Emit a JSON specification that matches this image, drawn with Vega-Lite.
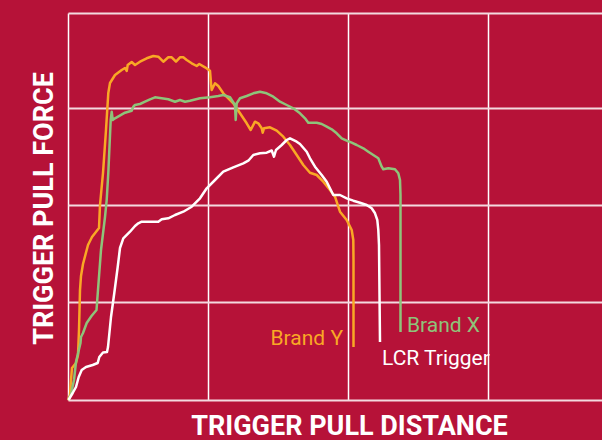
{
  "$schema": "https://vega.github.io/schema/vega-lite/v6.json",
  "width": 534,
  "height": 387,
  "autosize": "none",
  "padding": {"left": 68, "top": 13, "right": 0, "bottom": 40},
  "background": "#B61238",
  "config": {"view": {"stroke": null}},
  "datasets": {
    "curves": [
      {"s":"Brand Y","i":0,"d":0,"f":0},{"s":"Brand Y","i":1,"d":2,"f":5},{"s":"Brand Y","i":2,"d":3,"f":20},{"s":"Brand Y","i":3,"d":4,"f":32},{"s":"Brand Y","i":4,"d":8,"f":37},{"s":"Brand Y","i":5,"d":10,"f":45},{"s":"Brand Y","i":6,"d":11,"f":70},{"s":"Brand Y","i":7,"d":12,"f":110},{"s":"Brand Y","i":8,"d":13,"f":124},{"s":"Brand Y","i":9,"d":15,"f":136},{"s":"Brand Y","i":10,"d":20,"f":155},{"s":"Brand Y","i":11,"d":24,"f":163},{"s":"Brand Y","i":12,"d":31,"f":172},{"s":"Brand Y","i":13,"d":32,"f":195},{"s":"Brand Y","i":14,"d":35,"f":227},{"s":"Brand Y","i":15,"d":38,"f":270},{"s":"Brand Y","i":16,"d":40.3,"f":307},{"s":"Brand Y","i":17,"d":42,"f":317},{"s":"Brand Y","i":18,"d":47,"f":325},{"s":"Brand Y","i":19,"d":53.7,"f":330},{"s":"Brand Y","i":20,"d":57,"f":332},{"s":"Brand Y","i":21,"d":58.7,"f":329},{"s":"Brand Y","i":22,"d":59.7,"f":335},{"s":"Brand Y","i":23,"d":63.7,"f":338},{"s":"Brand Y","i":24,"d":67,"f":335},{"s":"Brand Y","i":25,"d":72,"f":338.3},{"s":"Brand Y","i":26,"d":78.7,"f":341.7},{"s":"Brand Y","i":27,"d":85.3,"f":344},{"s":"Brand Y","i":28,"d":90.3,"f":343.3},{"s":"Brand Y","i":29,"d":95.3,"f":338.3},{"s":"Brand Y","i":30,"d":100.3,"f":342.7},{"s":"Brand Y","i":31,"d":103.7,"f":342.7},{"s":"Brand Y","i":32,"d":108,"f":338.3},{"s":"Brand Y","i":33,"d":112,"f":342.7},{"s":"Brand Y","i":34,"d":115.3,"f":342.7},{"s":"Brand Y","i":35,"d":118.7,"f":340},{"s":"Brand Y","i":36,"d":123.7,"f":336.7},{"s":"Brand Y","i":37,"d":128.7,"f":334},{"s":"Brand Y","i":38,"d":131.3,"f":336},{"s":"Brand Y","i":39,"d":137,"f":332.7},{"s":"Brand Y","i":40,"d":142,"f":329.3},{"s":"Brand Y","i":41,"d":143,"f":316.7},{"s":"Brand Y","i":42,"d":143.7,"f":310},{"s":"Brand Y","i":43,"d":147,"f":316.7},{"s":"Brand Y","i":44,"d":150.3,"f":314},{"s":"Brand Y","i":45,"d":155.3,"f":306.7},{"s":"Brand Y","i":46,"d":165.3,"f":296.7},{"s":"Brand Y","i":47,"d":172,"f":286.7},{"s":"Brand Y","i":48,"d":178.7,"f":276.7},{"s":"Brand Y","i":49,"d":182.7,"f":270},{"s":"Brand Y","i":50,"d":187,"f":278.3},{"s":"Brand Y","i":51,"d":190.3,"f":276.7},{"s":"Brand Y","i":52,"d":193.7,"f":271.7},{"s":"Brand Y","i":53,"d":194.7,"f":267.3},{"s":"Brand Y","i":54,"d":196,"f":271.7},{"s":"Brand Y","i":55,"d":202,"f":272.7},{"s":"Brand Y","i":56,"d":208.7,"f":269.3},{"s":"Brand Y","i":57,"d":215.3,"f":263.3},{"s":"Brand Y","i":58,"d":222,"f":255},{"s":"Brand Y","i":59,"d":228.7,"f":245},{"s":"Brand Y","i":60,"d":235.3,"f":235},{"s":"Brand Y","i":61,"d":242,"f":227.3},{"s":"Brand Y","i":62,"d":248.7,"f":225},{"s":"Brand Y","i":63,"d":255.3,"f":218.3},{"s":"Brand Y","i":64,"d":262,"f":210},{"s":"Brand Y","i":65,"d":267,"f":203.3},{"s":"Brand Y","i":66,"d":270.3,"f":193.3},{"s":"Brand Y","i":67,"d":272,"f":188.3},{"s":"Brand Y","i":68,"d":278.7,"f":180},{"s":"Brand Y","i":69,"d":283.7,"f":170},{"s":"Brand Y","i":70,"d":285.3,"f":160},{"s":"Brand Y","i":71,"d":285.5,"f":140},{"s":"Brand Y","i":72,"d":285.5,"f":53},

      {"s":"Brand X","i":0,"d":0.5,"f":0},{"s":"Brand X","i":1,"d":3,"f":6},{"s":"Brand X","i":2,"d":6,"f":20},{"s":"Brand X","i":3,"d":8,"f":38},{"s":"Brand X","i":4,"d":12.5,"f":57},{"s":"Brand X","i":5,"d":13,"f":63},{"s":"Brand X","i":6,"d":15,"f":67},{"s":"Brand X","i":7,"d":18.7,"f":77},{"s":"Brand X","i":8,"d":23.5,"f":84},{"s":"Brand X","i":9,"d":28.5,"f":90},{"s":"Brand X","i":10,"d":30,"f":110},{"s":"Brand X","i":11,"d":33,"f":150},{"s":"Brand X","i":12,"d":37,"f":183},{"s":"Brand X","i":13,"d":38.7,"f":200},{"s":"Brand X","i":14,"d":40.3,"f":227},{"s":"Brand X","i":15,"d":42.7,"f":280},{"s":"Brand X","i":16,"d":43.7,"f":288.3},{"s":"Brand X","i":17,"d":44.7,"f":280},{"s":"Brand X","i":18,"d":47,"f":281.7},{"s":"Brand X","i":19,"d":57,"f":287.3},{"s":"Brand X","i":20,"d":63.7,"f":289.3},{"s":"Brand X","i":21,"d":65.3,"f":293.3},{"s":"Brand X","i":22,"d":67,"f":295},{"s":"Brand X","i":23,"d":72,"f":296},{"s":"Brand X","i":24,"d":77,"f":298.3},{"s":"Brand X","i":25,"d":82,"f":300.7},{"s":"Brand X","i":26,"d":87,"f":302.7},{"s":"Brand X","i":27,"d":92,"f":302},{"s":"Brand X","i":28,"d":100.3,"f":300.7},{"s":"Brand X","i":29,"d":107,"f":298.3},{"s":"Brand X","i":30,"d":112,"f":300},{"s":"Brand X","i":31,"d":117,"f":298.3},{"s":"Brand X","i":32,"d":122,"f":299.3},{"s":"Brand X","i":33,"d":132,"f":301.7},{"s":"Brand X","i":34,"d":142,"f":302.7},{"s":"Brand X","i":35,"d":150.3,"f":304},{"s":"Brand X","i":36,"d":155.3,"f":305},{"s":"Brand X","i":37,"d":162,"f":302.7},{"s":"Brand X","i":38,"d":167,"f":295},{"s":"Brand X","i":39,"d":167.7,"f":280},{"s":"Brand X","i":40,"d":168.7,"f":296.7},{"s":"Brand X","i":41,"d":172,"f":301.7},{"s":"Brand X","i":42,"d":178.7,"f":304},{"s":"Brand X","i":43,"d":185.3,"f":306.7},{"s":"Brand X","i":44,"d":192,"f":308.3},{"s":"Brand X","i":45,"d":198.7,"f":306.7},{"s":"Brand X","i":46,"d":205.3,"f":303.3},{"s":"Brand X","i":47,"d":212,"f":298.3},{"s":"Brand X","i":48,"d":218.7,"f":295},{"s":"Brand X","i":49,"d":225.3,"f":291.7},{"s":"Brand X","i":50,"d":232,"f":286.7},{"s":"Brand X","i":51,"d":237,"f":281.7},{"s":"Brand X","i":52,"d":240.3,"f":277.3},{"s":"Brand X","i":53,"d":248.7,"f":277.3},{"s":"Brand X","i":54,"d":253.7,"f":276},{"s":"Brand X","i":55,"d":258.7,"f":273.3},{"s":"Brand X","i":56,"d":263.7,"f":270.7},{"s":"Brand X","i":57,"d":268.7,"f":266.7},{"s":"Brand X","i":58,"d":273.7,"f":261.7},{"s":"Brand X","i":59,"d":278.7,"f":259.3},{"s":"Brand X","i":60,"d":283.7,"f":257.3},{"s":"Brand X","i":61,"d":288.7,"f":255},{"s":"Brand X","i":62,"d":295.3,"f":251.7},{"s":"Brand X","i":63,"d":300.3,"f":248.3},{"s":"Brand X","i":64,"d":305.3,"f":245},{"s":"Brand X","i":65,"d":310.3,"f":241.7},{"s":"Brand X","i":66,"d":313.7,"f":233.3},{"s":"Brand X","i":67,"d":315.3,"f":230.7},{"s":"Brand X","i":68,"d":320.3,"f":231.7},{"s":"Brand X","i":69,"d":327,"f":230.7},{"s":"Brand X","i":70,"d":330.3,"f":226.7},{"s":"Brand X","i":71,"d":332,"f":220},{"s":"Brand X","i":72,"d":332.5,"f":205},{"s":"Brand X","i":73,"d":332.5,"f":68},

      {"s":"LCR Trigger","i":0,"d":0.5,"f":0},{"s":"LCR Trigger","i":1,"d":4.7,"f":7},{"s":"LCR Trigger","i":2,"d":8,"f":13},{"s":"LCR Trigger","i":3,"d":10.7,"f":23},{"s":"LCR Trigger","i":4,"d":13.7,"f":30},{"s":"LCR Trigger","i":5,"d":18,"f":33},{"s":"LCR Trigger","i":6,"d":24.7,"f":35},{"s":"LCR Trigger","i":7,"d":29.7,"f":37},{"s":"LCR Trigger","i":8,"d":31.3,"f":43},{"s":"LCR Trigger","i":9,"d":35,"f":47.5},{"s":"LCR Trigger","i":10,"d":39,"f":48},{"s":"LCR Trigger","i":11,"d":40,"f":53},{"s":"LCR Trigger","i":12,"d":43,"f":83},{"s":"LCR Trigger","i":13,"d":46.3,"f":107},{"s":"LCR Trigger","i":14,"d":49.7,"f":133},{"s":"LCR Trigger","i":15,"d":52,"f":152},{"s":"LCR Trigger","i":16,"d":55.3,"f":161.7},{"s":"LCR Trigger","i":17,"d":62,"f":168.3},{"s":"LCR Trigger","i":18,"d":67,"f":174},{"s":"LCR Trigger","i":19,"d":70.3,"f":176.7},{"s":"LCR Trigger","i":20,"d":73.7,"f":178.3},{"s":"LCR Trigger","i":21,"d":90.3,"f":178.3},{"s":"LCR Trigger","i":22,"d":93.7,"f":180.7},{"s":"LCR Trigger","i":23,"d":100.3,"f":181.7},{"s":"LCR Trigger","i":24,"d":107,"f":185},{"s":"LCR Trigger","i":25,"d":115.3,"f":188.3},{"s":"LCR Trigger","i":26,"d":123.7,"f":193.3},{"s":"LCR Trigger","i":27,"d":128.7,"f":198.3},{"s":"LCR Trigger","i":28,"d":132,"f":201.7},{"s":"LCR Trigger","i":29,"d":138.7,"f":211.7},{"s":"LCR Trigger","i":30,"d":147,"f":220},{"s":"LCR Trigger","i":31,"d":155.3,"f":228.3},{"s":"LCR Trigger","i":32,"d":165.3,"f":232.7},{"s":"LCR Trigger","i":33,"d":175.3,"f":236.7},{"s":"LCR Trigger","i":34,"d":180.3,"f":239.3},{"s":"LCR Trigger","i":35,"d":185.3,"f":245},{"s":"LCR Trigger","i":36,"d":192,"f":246.7},{"s":"LCR Trigger","i":37,"d":198.7,"f":247.3},{"s":"LCR Trigger","i":38,"d":203.7,"f":249.5},{"s":"LCR Trigger","i":39,"d":206,"f":243.3},{"s":"LCR Trigger","i":40,"d":208,"f":250},{"s":"LCR Trigger","i":41,"d":213.7,"f":255},{"s":"LCR Trigger","i":42,"d":218.7,"f":260},{"s":"LCR Trigger","i":43,"d":222,"f":261.7},{"s":"LCR Trigger","i":44,"d":228.7,"f":258.3},{"s":"LCR Trigger","i":45,"d":232,"f":256},{"s":"LCR Trigger","i":46,"d":238.7,"f":248.3},{"s":"LCR Trigger","i":47,"d":242,"f":241.7},{"s":"LCR Trigger","i":48,"d":247,"f":233.3},{"s":"LCR Trigger","i":49,"d":253.7,"f":225},{"s":"LCR Trigger","i":50,"d":258.7,"f":218.3},{"s":"LCR Trigger","i":51,"d":263.7,"f":208.3},{"s":"LCR Trigger","i":52,"d":265.3,"f":205},{"s":"LCR Trigger","i":53,"d":272,"f":205},{"s":"LCR Trigger","i":54,"d":278.7,"f":201.7},{"s":"LCR Trigger","i":55,"d":285.3,"f":199.3},{"s":"LCR Trigger","i":56,"d":292,"f":197.3},{"s":"LCR Trigger","i":57,"d":298.7,"f":195},{"s":"LCR Trigger","i":58,"d":303.7,"f":191.7},{"s":"LCR Trigger","i":59,"d":307,"f":186.7},{"s":"LCR Trigger","i":60,"d":309.3,"f":180},{"s":"LCR Trigger","i":61,"d":310.3,"f":170},{"s":"LCR Trigger","i":62,"d":311,"f":155},{"s":"LCR Trigger","i":63,"d":312,"f":58}
    ],
    "labels": [
      {"s":"Brand Y","d":275,"f":55},
      {"s":"Brand X","d":339,"f":68},
      {"s":"LCR Trigger","d":314,"f":35}
    ]
  },
  "encoding": {
    "x": {
      "field": "d", "type": "quantitative",
      "scale": {"domain": [0, 534], "nice": false, "zero": false},
      "axis": {
        "values": [0, 140, 280, 420],
        "grid": true, "gridColor": "#FFFFFF", "gridWidth": 1.5, "gridOpacity": 1,
        "labels": false, "ticks": false, "domain": false,
        "title": "TRIGGER PULL DISTANCE",
        "titleFont": "Roboto", "titleFontSize": 27, "titleFontWeight": "bold",
        "titleColor": "#FFFFFF", "titleX": 281, "titleY": 34,
        "titleAlign": "center", "titleBaseline": "alphabetic", "titleAnchor": null
      }
    },
    "y": {
      "field": "f", "type": "quantitative",
      "scale": {"domain": [0, 387], "nice": false, "zero": false},
      "axis": {
        "values": [0, 98, 195, 292, 387],
        "grid": true, "gridColor": "#F3D9DF", "gridWidth": 2, "gridOpacity": 1,
        "labels": false, "ticks": false, "domain": false,
        "title": "TRIGGER PULL FORCE",
        "titleFont": "Roboto", "titleFontSize": 27, "titleFontWeight": "bold",
        "titleColor": "#FFFFFF", "titleAngle": -90, "titleX": -16, "titleY": 195,
        "titleAlign": "center", "titleBaseline": "alphabetic", "titleAnchor": null
      }
    }
  },
  "layer": [
    {
      "data": {"name": "curves"},
      "mark": {"type": "line", "strokeWidth": 2.5, "strokeJoin": "round", "strokeCap": "butt"},
      "encoding": {
        "color": {
          "field": "s", "type": "nominal", "legend": null,
          "scale": {"domain": ["Brand Y", "Brand X", "LCR Trigger"], "range": ["#F9A825", "#8EC47A", "#FFFFFF"]}
        },
        "detail": {"field": "s"},
        "order": {"field": "i", "type": "quantitative"}
      }
    },
    {
      "data": {"name": "labels"},
      "transform": [{"filter": "datum.s === 'Brand Y'"}],
      "mark": {"type": "text", "align": "right", "baseline": "alphabetic", "font": "Roboto", "fontSize": 21, "color": "#F9A825"},
      "encoding": {"text": {"field": "s"}}
    },
    {
      "data": {"name": "labels"},
      "transform": [{"filter": "datum.s === 'Brand X'"}],
      "mark": {"type": "text", "align": "left", "baseline": "alphabetic", "font": "Roboto", "fontSize": 21, "color": "#8EC47A"},
      "encoding": {"text": {"field": "s"}}
    },
    {
      "data": {"name": "labels"},
      "transform": [{"filter": "datum.s === 'LCR Trigger'"}],
      "mark": {"type": "text", "align": "left", "baseline": "alphabetic", "font": "Roboto", "fontSize": 21, "color": "#FFFFFF"},
      "encoding": {"text": {"field": "s"}}
    }
  ]
}
